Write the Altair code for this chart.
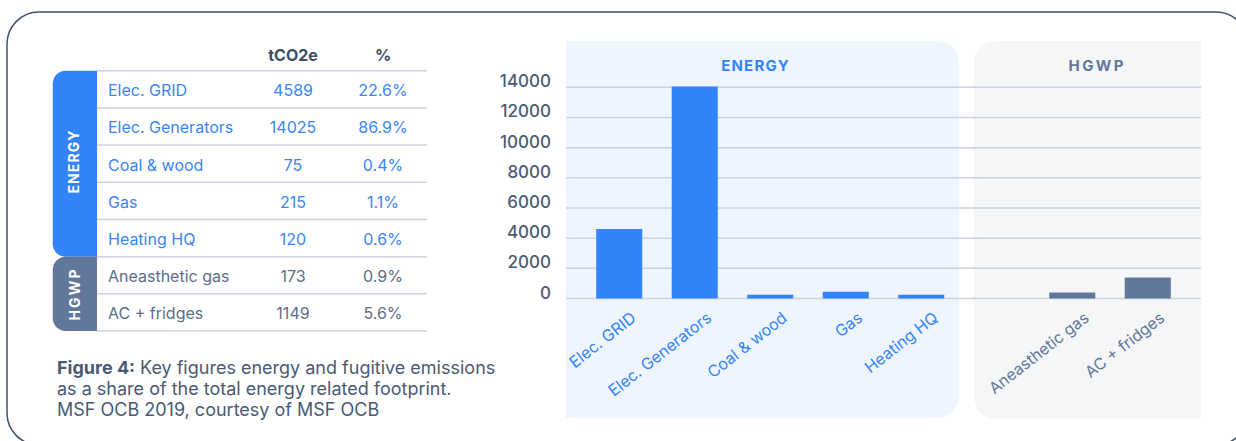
import altair as alt
import pandas as pd

# ---------------- data ----------------
categories = ["Elec. GRID", "Elec. Generators", "Coal & wood", "Gas", "Heating HQ",
              "Aneasthetic gas", "AC + fridges"]
groups = ["ENERGY", "ENERGY", "ENERGY", "ENERGY", "ENERGY", "HGWP", "HGWP"]
table_tco2e = ["4589", "14025", "75", "215", "120", "173", "1149"]
table_pct = ["22.6%", "86.9%", "0.4%", "1.1%", "0.6%", "0.9%", "5.6%"]
# bar heights as drawn in the picture
bar_values = [4600, 14050, 250, 450, 250, 400, 1400]
y_ticks = [0, 2000, 4000, 6000, 8000, 10000, 12000, 14000]
caption_bold = "Figure 4:"
caption_lines = ["Key figures energy and fugitive emissions",
                 "as a share of the total energy related footprint.",
                 "MSF OCB 2019, courtesy of MSF OCB"]

# ---------------- style ----------------
FONT = "Inter"
BLUE = "#3384fb"
SLATE = "#62789a"
TXT_BLUE = "#3a86f7"
TXT_SLATE = "#5d6d85"
DARK = "#3d4d66"
GRID = "#ccd3dd"

df = pd.DataFrame({"cat": categories, "grp": groups, "tco2e": table_tco2e,
                   "pct": table_pct, "bar": bar_values})
ticks = pd.DataFrame({"v": y_ticks, "lbl": [str(t) for t in y_ticks]})
one = pd.DataFrame({"a": [0]})

x_domain = categories[:5] + ["_gap"] + categories[5:]
xs = alt.Scale(domain=x_domain, range=[566, 1201], paddingInner=0.39, paddingOuter=0.4)
ys = alt.Scale(domain=[0, 14000], range=[298.5, 87.3], nice=False, zero=True)
ts = alt.Scale(domain=categories, range=[70.7, 331], paddingInner=0, paddingOuter=0)
grp_col = alt.Scale(domain=["ENERGY", "HGWP"], range=[BLUE, SLATE])
grp_txt = alt.Scale(domain=["ENERGY", "HGWP"], range=[TXT_BLUE, TXT_SLATE])


def rect(x, x2, y, y2, **kw):
    return alt.Chart(one).mark_rect(**kw).encode(
        x=alt.value(x), x2=alt.value(x2), y=alt.value(y), y2=alt.value(y2))


def label(txt, x, y, **kw):
    d = dict(font=FONT)
    d.update(kw)
    return alt.Chart(one).mark_text(text=txt, **d).encode(x=alt.value(x), y=alt.value(y))


HS = "\u200a"
TS = "\u2009"

# ---------------- decorations ----------------
border = rect(7, 1248, 12, 445, fillOpacity=0, stroke="#3f5272", strokeWidth=1.5,
              cornerRadius=32)
energy_bg = rect(566, 959, 41, 418, color="#eff5fe",
                 cornerRadiusTopRight=22, cornerRadiusBottomRight=22)
hgwp_bg = rect(974, 1201, 41, 419, color="#f4f6f8",
               cornerRadiusTopLeft=22, cornerRadiusBottomLeft=22)
energy_band = rect(52.7, 97, 70.7, 256.7, color=BLUE,
                   cornerRadiusTopLeft=13, cornerRadiusBottomLeft=13)
hgwp_band = rect(52.7, 97, 256.7, 331, color=SLATE,
                 cornerRadiusTopLeft=13, cornerRadiusBottomLeft=13)
band_lbl_e = label(HS.join("ENERGY"), 75, 162, angle=270, fontSize=14, fontWeight="bold",
                   color="white", align="center", baseline="middle")
band_lbl_h = label(TS.join("HGWP"), 76, 295, angle=270, fontSize=14, fontWeight="bold",
                   color="white", align="center", baseline="middle")
head1 = label("tCO2e", 293, 56, fontSize=16, fontWeight="bold", color=DARK,
              align="center", baseline="middle")
head2 = label("%", 383, 56, fontSize=16, fontWeight="bold", color=DARK,
              align="center", baseline="middle")
title_e = label(HS.join("ENERGY"), 755, 66, fontSize=15, fontWeight="bold", color=BLUE,
                align="center", baseline="middle")
title_h = label(TS.join("HGWP"), 1096, 66, fontSize=15, fontWeight="bold", color=SLATE,
                align="center", baseline="middle")
CAP = "#4a5a73"
cap0 = label(caption_bold, 57, 369, fontSize=18, fontWeight="bold", color=CAP,
             align="left", baseline="middle")
cap1 = label(caption_lines[0], 140, 369, fontSize=18, color=CAP,
             align="left", baseline="middle")
cap2 = label(caption_lines[1], 57, 390, fontSize=18, color=CAP,
             align="left", baseline="middle")
cap3 = label(caption_lines[2], 57, 411, fontSize=18, color=CAP,
             align="left", baseline="middle")

deco = alt.layer(border, energy_bg, hgwp_bg, energy_band, hgwp_band, band_lbl_e,
                 band_lbl_h, head1, head2, title_e, title_h, cap0, cap1, cap2, cap3)

# ---------------- table ----------------
tbase = alt.Chart(df)
top_line = alt.Chart(df.iloc[:1]).mark_rule(color=GRID, strokeWidth=1.5).encode(
    y=alt.Y("cat:N", scale=ts, axis=None, bandPosition=0),
    x=alt.value(97), x2=alt.value(427))
row_lines = tbase.mark_rule(color=GRID, strokeWidth=1.5).encode(
    y=alt.Y("cat:N", scale=ts, axis=None, bandPosition=1),
    x=alt.value(97), x2=alt.value(427))
t_cat = tbase.mark_text(font=FONT, fontSize=16, align="left", baseline="middle", dy=2).encode(
    y=alt.Y("cat:N", scale=ts, axis=None), x=alt.value(108), text="cat:N",
    color=alt.Color("grp:N", scale=grp_txt, legend=None))
t_val = tbase.mark_text(font=FONT, fontSize=16, align="center", baseline="middle", dy=2).encode(
    y=alt.Y("cat:N", scale=ts, axis=None), x=alt.value(293), text="tco2e:N",
    color=alt.Color("grp:N", scale=grp_txt, legend=None))
t_pct = tbase.mark_text(font=FONT, fontSize=16, align="center", baseline="middle", dy=2).encode(
    y=alt.Y("cat:N", scale=ts, axis=None), x=alt.value(383), text="pct:N",
    color=alt.Color("grp:N", scale=grp_txt, legend=None))
table = alt.layer(top_line, row_lines, t_cat, t_val, t_pct)

# ---------------- bar chart ----------------
grid = alt.Chart(ticks).mark_rule(color=GRID, strokeWidth=1.5).encode(
    y=alt.Y("v:Q", scale=ys, axis=None), x=alt.value(566), x2=alt.value(1201))
ylbl = alt.Chart(ticks).mark_text(font=FONT, fontSize=17, fontWeight=500, color="#4b5b74",
                                  align="right", baseline="middle", dy=-5).encode(
    y=alt.Y("v:Q", scale=ys, axis=None), x=alt.value(551), text="lbl:N")
bars = alt.Chart(df).mark_bar().encode(
    x=alt.X("cat:N", scale=xs, axis=None, sort=x_domain),
    y=alt.Y("bar:Q", scale=ys, axis=None),
    color=alt.Color("grp:N", scale=grp_col, legend=None))
xlbl = alt.Chart(df).mark_text(font=FONT, fontSize=16, align="right", baseline="middle",
                               angle=322).encode(
    x=alt.X("cat:N", scale=xs, axis=None, sort=x_domain, bandPosition=0.82),
    y=alt.value(316), text="cat:N",
    color=alt.Color("grp:N", scale=grp_txt, legend=None))
barchart = alt.layer(grid, ylbl, bars, xlbl)

chart = alt.layer(deco, table, barchart).resolve_scale(
    x="independent", y="independent", color="independent"
).properties(
    width=1236, height=441, autosize=alt.AutoSizeParams(type="none"), padding=0
).configure_view(stroke=None)

chart.save("out.html", embed_options={"renderer": "svg", "actions": False})
